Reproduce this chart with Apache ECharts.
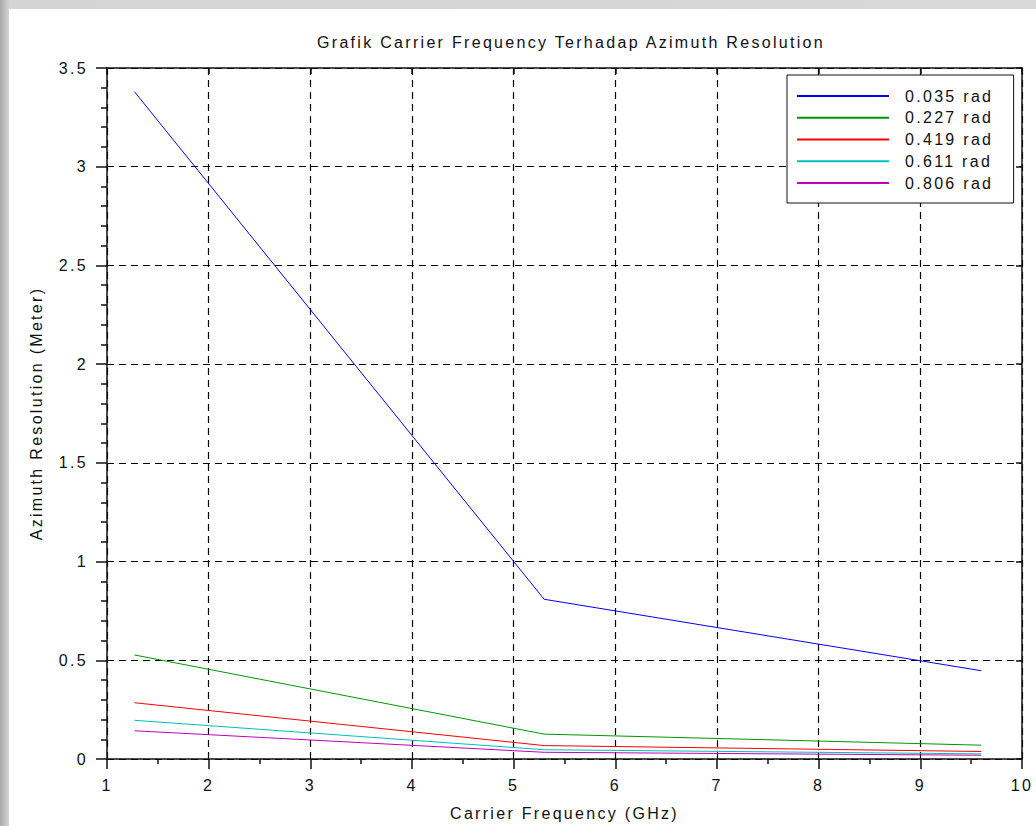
<!DOCTYPE html>
<html>
<head>
<meta charset="utf-8">
<script src="https://cdn.jsdelivr.net/npm/echarts@6/dist/echarts.min.js"></script>
<style>
    html, body { margin: 0; padding: 0; }
    body {
        width: 1036px; height: 826px; overflow: hidden; position: relative;
        background: linear-gradient(90deg, #a9a9a9 0px, #d4d4d4 9px, #d8d8d8 100%);
    }
    #paper { position: absolute; left: 9px; top: 9px; right: 0; bottom: 0; background: #fff; }
    #main { position: absolute; left: 0; top: 0; width: 1036px; height: 826px; }
    #main text { letter-spacing: 2.3px; }
</style>
</head>
<body>
<div id="paper"></div>
<div id="main"></div>
<script>
// carrier frequency (GHz): L, C, X band
var freq = [1.27, 5.3, 9.6];
// azimuth resolution (m) for each antenna angle
var res_0035 = [3.38, 0.809, 0.447];
var res_0227 = [0.527, 0.126, 0.070];
var res_0419 = [0.285, 0.068, 0.038];
var res_0611 = [0.196, 0.047, 0.026];
var res_0806 = [0.143, 0.034, 0.019];
var names = ['0.035 rad', '0.227 rad', '0.419 rad', '0.611 rad', '0.806 rad'];
var colors = ['#0000ff', '#009700', '#ff0000', '#00bfbf', '#bf00bf'];

function pairs(vals){
    var out = [];
    for (var i = 0; i < freq.length; i++) out.push([freq[i], vals[i]]);
    return out;
}

var font = '"Liberation Sans", Arial, sans-serif';
var ink = '#111';

var myChart = echarts.init(document.getElementById('main'), null, {renderer: 'svg'});
var allRes = [res_0035, res_0227, res_0419, res_0611, res_0806];
var series = allRes.map(function(r, i){
    return {
        type: 'line',
        name: names[i],
        data: pairs(r),
        symbol: 'none',
        xAxisIndex: 0,
        yAxisIndex: 0,
        lineStyle: { width: 1, color: colors[i] },
        itemStyle: { color: colors[i] },
        z: 3
    };
});

var option = {
    animation: false,
    title: {
        text: 'Grafik Carrier Frequency Terhadap Azimuth Resolution',
        left: 566,
        textAlign: 'center',
        top: 29,
        textStyle: { fontFamily: font, fontSize: 16, fontWeight: 'normal', color: ink }
    },
    legend: {
        orient: 'vertical',
        left: 787,
        top: 75,
        padding: [13, 41, 12, 10],
        backgroundColor: '#fff',
        borderColor: '#111',
        borderWidth: 1,
        icon: 'rect',
        itemWidth: 92,
        itemHeight: 2,
        itemGap: 5.75,
        selectedMode: false,
        data: names,
        textStyle: { fontFamily: font, fontSize: 16, color: ink, lineHeight: 16, padding: [0, 0, 0, 11] },
        z: 10
    },
    grid: { left: 107, top: 68, width: 915, height: 692 },
    xAxis: [{
        type: 'value',
        min: 1, max: 10, interval: 1,
        name: 'Carrier Frequency (GHz)',
        nameLocation: 'middle',
        nameGap: 46,
        nameTextStyle: { fontFamily: font, fontSize: 16, color: ink },
        axisLine: { show: true, onZero: false, lineStyle: { color: ink, width: 1.5 } },
        axisTick: { show: true, length: 10, lineStyle: { color: ink, width: 1.5 } },
        minorTick: { show: true, splitNumber: 2, length: 5, lineStyle: { color: ink, width: 1.5 } },
        axisLabel: { margin: 18, fontFamily: font, fontSize: 16, color: ink },
        splitLine: { show: true, lineStyle: { color: '#000', width: 1.2, type: [7, 5] } }
    }, {
        type: 'value', position: 'top',
        min: 1, max: 10, interval: 1,
        axisLine: { show: true, onZero: false, lineStyle: { color: ink, width: 1.5 } },
        axisTick: { show: true, inside: true, length: 6, lineStyle: { color: ink, width: 1.5 } },
        axisLabel: { show: false },
        splitLine: { show: false }
    }],
    yAxis: [{
        type: 'value',
        min: 0, max: 3.5, interval: 0.5,
        name: 'Azimuth Resolution (Meter)',
        nameLocation: 'middle',
        nameGap: 63,
        nameRotate: 90,
        nameTextStyle: { fontFamily: font, fontSize: 16, color: ink },
        axisLine: { show: true, onZero: false, lineStyle: { color: ink, width: 1.5 } },
        axisTick: { show: true, length: 11, lineStyle: { color: ink, width: 1.5 } },
        minorTick: { show: true, splitNumber: 5, length: 6, lineStyle: { color: ink, width: 1.5 } },
        axisLabel: { margin: 19, fontFamily: font, fontSize: 16, color: ink },
        splitLine: { show: true, lineStyle: { color: '#000', width: 1.2, type: [7, 5] } }
    }, {
        type: 'value', position: 'right',
        min: 0, max: 3.5, interval: 0.5,
        axisLine: { show: true, onZero: false, lineStyle: { color: ink, width: 1.5 } },
        axisTick: { show: true, inside: true, length: 6, lineStyle: { color: ink, width: 1.5 } },
        axisLabel: { show: false },
        splitLine: { show: false }
    }],
    series: series
};
myChart.setOption(option);
</script>
</body>
</html>
